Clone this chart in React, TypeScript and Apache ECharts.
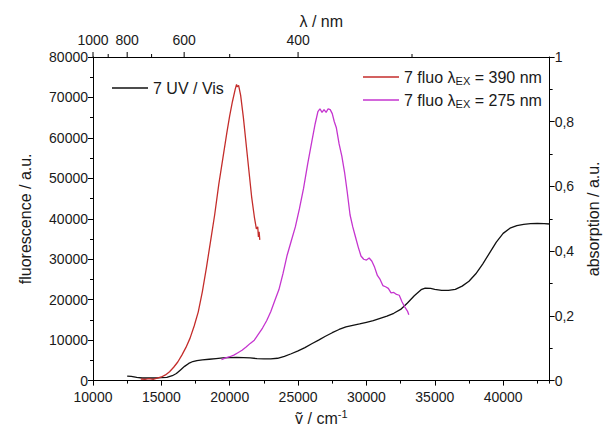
import React, { useEffect, useRef } from "react";
import * as echarts from "echarts";

// ---- data ----
const seriesNames = ["7 UV / Vis", "7 fluo λEX = 390 nm", "7 fluo λEX = 275 nm"];

// UV/Vis absorption (right axis), x = wavenumber / cm-1
const uvX = [12500, 12800, 13200, 13600, 14000, 14500, 15000, 15400, 15800, 16100, 16400, 16700, 17000, 17300, 17600, 18000, 18500, 19000, 19500, 20000, 20500, 21000, 21500, 22000, 22500, 23000, 23500, 24000, 24500, 25000, 25500, 26000, 26500, 27000, 27500, 28000, 28500, 29000, 29500, 30000, 30500, 31000, 31500, 32000, 32500, 33000, 33500, 34000, 34300, 34700, 35000, 35500, 36000, 36500, 37000, 37500, 38000, 38500, 39000, 39500, 40000, 40500, 41000, 41500, 42000, 42500, 43000, 43400];
const uvY = [0.014, 0.013, 0.01, 0.008, 0.008, 0.008, 0.009, 0.01, 0.015, 0.022, 0.033, 0.044, 0.053, 0.059, 0.062, 0.064, 0.066, 0.068, 0.07, 0.071, 0.072, 0.071, 0.07, 0.068, 0.067, 0.067, 0.069, 0.075, 0.083, 0.092, 0.102, 0.114, 0.125, 0.137, 0.148, 0.158, 0.166, 0.171, 0.175, 0.18, 0.185, 0.192, 0.199, 0.208, 0.22, 0.24, 0.262, 0.281, 0.286, 0.285, 0.282, 0.279, 0.279, 0.282, 0.292, 0.307, 0.33, 0.36, 0.394, 0.428, 0.455, 0.471, 0.479, 0.483, 0.485, 0.486, 0.485, 0.484];

// fluorescence, excitation 390 nm (left axis)
const fluo390X = [13500, 13800, 14100, 14400, 14700, 15000, 15300, 15600, 15900, 16200, 16500, 16800, 17100, 17400, 17700, 18000, 18300, 18600, 18900, 19200, 19500, 19800, 20000, 20200, 20400, 20500, 20550, 20650, 20800, 21000, 21200, 21400, 21600, 21800, 21950, 22050, 22100, 22150, 22200];
const fluo390Y = [400, 300, 500, 300, 600, 900, 1400, 2200, 3300, 4600, 6300, 8200, 10500, 13500, 17000, 22000, 28000, 34500, 41000, 48500, 55000, 61500, 65500, 69000, 72000, 73200, 72600, 73000, 70500, 65000, 58500, 52000, 45500, 40500, 37500, 38000, 35500, 36800, 34800];

// fluorescence, excitation 275 nm (left axis)
const fluo275X = [19400, 19700, 20000, 20300, 20600, 20900, 21200, 21500, 21800, 22100, 22400, 22700, 23000, 23300, 23600, 23900, 24200, 24500, 24800, 25100, 25400, 25700, 26000, 26250, 26450, 26600, 26750, 26900, 27050, 27200, 27350, 27500, 27650, 27800, 28000, 28200, 28400, 28600, 28800, 29000, 29200, 29400, 29600, 29800, 30000, 30200, 30400, 30600, 30800, 31000, 31200, 31400, 31600, 31800, 32000, 32200, 32400, 32600, 32800, 33000, 33100];
const fluo275Y = [5200, 5600, 5900, 6300, 6900, 7500, 8300, 9200, 10000, 11500, 13000, 14800, 17000, 19800, 22500, 26500, 31000, 34500, 38000, 42500, 47500, 53500, 59000, 63500, 66500, 67200, 66300, 67000, 66300, 67200, 67000, 66000, 64000, 62500, 58500, 55500, 51500, 46500, 41000, 38000, 35500, 33000, 30800, 30000, 29800, 30300, 29500, 28000, 26000, 25000, 23500, 23200, 22800, 21700, 21800, 21300, 21100, 19500, 18200, 17200, 16300];

// top axis (wavelength / nm)
const topMajorNm = [1000, 800, 600, 400];
const topMinorNm = [900, 700, 500, 300];

const X_MIN = 10000;
const X_MAX = 43400;
const FL_MAX = 80000;

const FONT = "'Liberation Sans', Arial, sans-serif";
const TXT = "#1a1a1a";

const zip = (xs: number[], ys: number[]) => xs.map((x, i) => [x, ys[i]]);

export default function App() {
  const ref = useRef<HTMLDivElement>(null);

  useEffect(() => {
    if (!ref.current) return;
    const chart = echarts.init(ref.current, undefined, { renderer: "svg" });

    const topTickData = [
      ...topMajorNm.map((nm) => [1e7 / nm, nm, 1]),
      ...topMinorNm.map((nm) => [1e7 / nm, nm, 0]),
    ];

    const axisLine = { show: true, lineStyle: { color: "#000", width: 1 } };
    const labelStyle = { fontSize: 14, color: TXT, fontFamily: FONT };
    const plain = (v: number) => String(v);

    chart.setOption({
      animation: false,
      backgroundColor: "#fff",
      textStyle: { fontFamily: FONT },
      grid: { left: 93, right: 48, top: 57, bottom: 48 },
      xAxis: [
        {
          type: "value",
          position: "bottom",
          min: X_MIN,
          max: X_MAX,
          interval: 5000,
          axisLine,
          axisTick: { show: true, length: 5, lineStyle: { color: "#000" } },
          axisLabel: { ...labelStyle, margin: 9, showMaxLabel: false, formatter: plain },
          splitLine: { show: false },
          name: "{n|ṽ / cm}{s|-1}",
          nameLocation: "middle",
          nameGap: 25,
          nameTextStyle: {
            color: TXT,
            fontFamily: FONT,
            rich: {
              n: { fontSize: 16, color: TXT, fontFamily: FONT },
              s: { fontSize: 11, color: TXT, fontFamily: FONT, padding: [0, 0, 8, 0] },
            },
          },
        },
        {
          type: "value",
          position: "bottom",
          min: X_MIN,
          max: X_MAX,
          interval: 2500,
          axisLine: { show: false },
          axisTick: { show: true, length: 3, lineStyle: { color: "#000" } },
          axisLabel: { show: false },
          splitLine: { show: false },
        },
        {
          type: "value",
          position: "top",
          min: X_MIN,
          max: X_MAX,
          axisLine,
          axisTick: { show: false },
          axisLabel: { show: false },
          splitLine: { show: false },
          name: "λ / nm",
          nameLocation: "middle",
          nameGap: 28,
          nameTextStyle: { fontSize: 16, color: TXT, fontFamily: FONT },
        },
      ],
      yAxis: [
        {
          type: "value",
          position: "left",
          min: 0,
          max: FL_MAX,
          interval: 10000,
          axisLine,
          axisTick: { show: true, length: 5, lineStyle: { color: "#000" } },
          minorTick: { show: true, splitNumber: 2, length: 3, lineStyle: { color: "#000", width: 1 } },
          axisLabel: { ...labelStyle, margin: 5, formatter: plain },
          splitLine: { show: false },
          name: "fluorescence / a.u.",
          nameLocation: "middle",
          nameRotate: 90,
          nameGap: 60,
          nameTextStyle: { fontSize: 16, color: TXT, fontFamily: FONT },
        },
        {
          type: "value",
          position: "right",
          min: 0,
          max: 1,
          interval: 0.2,
          axisLine,
          axisTick: { show: true, length: 5, lineStyle: { color: "#000" } },
          minorTick: { show: true, splitNumber: 2, length: 3, lineStyle: { color: "#000", width: 1 } },
          axisLabel: { ...labelStyle, margin: 5, formatter: (v: number) => String(v).replace(".", ",") },
          splitLine: { show: false },
          name: "absorption / a.u.",
          nameLocation: "middle",
          nameRotate: 90,
          nameGap: 32,
          nameTextStyle: { fontSize: 16, color: TXT, fontFamily: FONT },
        },
      ],
      legend: [
        {
          data: [seriesNames[0]],
          left: 112,
          top: 80,
          padding: 0,
          icon: "rect",
          itemWidth: 36,
          itemHeight: 1.3,
          textStyle: { fontSize: 16, color: TXT, fontFamily: FONT },
        },
        {
          data: [seriesNames[1], seriesNames[2]],
          orient: "vertical",
          left: 363,
          top: 69,
          padding: 0,
          itemGap: 6,
          icon: "rect",
          itemWidth: 36,
          itemHeight: 1.3,
          formatter: (name: string) => name.replace("EX", "{sub|EX}"),
          textStyle: {
            fontSize: 16,
            color: TXT,
            fontFamily: FONT,
            rich: {
              sub: { fontSize: 11, color: TXT, fontFamily: FONT, padding: [7, 0, 0, 0] },
            },
          },
        },
      ],
      series: [
        {
          name: seriesNames[0],
          type: "line",
          xAxisIndex: 0,
          yAxisIndex: 1,
          data: zip(uvX, uvY),
          symbol: "none",
          lineStyle: { color: "#111", width: 1.3 },
          itemStyle: { color: "#111" },
          z: 2,
        },
        {
          name: seriesNames[1],
          type: "line",
          xAxisIndex: 0,
          yAxisIndex: 0,
          data: zip(fluo390X, fluo390Y),
          symbol: "none",
          lineStyle: { color: "#c42d2b", width: 1.3 },
          itemStyle: { color: "#c42d2b" },
          z: 3,
        },
        {
          name: seriesNames[2],
          type: "line",
          xAxisIndex: 0,
          yAxisIndex: 0,
          data: zip(fluo275X, fluo275Y),
          symbol: "none",
          lineStyle: { color: "#c535cf", width: 1.3 },
          itemStyle: { color: "#c535cf" },
          z: 4,
        },
        {
          type: "custom",
          xAxisIndex: 0,
          yAxisIndex: 0,
          silent: true,
          clip: false,
          z: 10,
          data: topTickData,
          renderItem: (params: any, api: any) => {
            const wn = api.value(0);
            const nm = api.value(1);
            const major = api.value(2) === 1;
            const p = api.coord([wn, FL_MAX]);
            const len = major ? 5 : 3;
            const children: any[] = [
              {
                type: "line",
                shape: { x1: p[0], y1: p[1], x2: p[0], y2: p[1] - len },
                style: { stroke: "#000", lineWidth: 1 },
              },
            ];
            if (major) {
              children.push({
                type: "text",
                x: p[0],
                y: p[1] - len - 5,
                style: {
                  text: String(nm),
                  align: "center",
                  verticalAlign: "bottom",
                  fontSize: 14,
                  fill: TXT,
                  fontFamily: FONT,
                },
              });
            }
            return { type: "group", children };
          },
        },
      ],
    });

    return () => chart.dispose();
  }, []);

  return (
    <div
      ref={ref}
      style={{ position: "absolute", left: 0, top: 0, width: 609, height: 431 }}
    />
  );
}
